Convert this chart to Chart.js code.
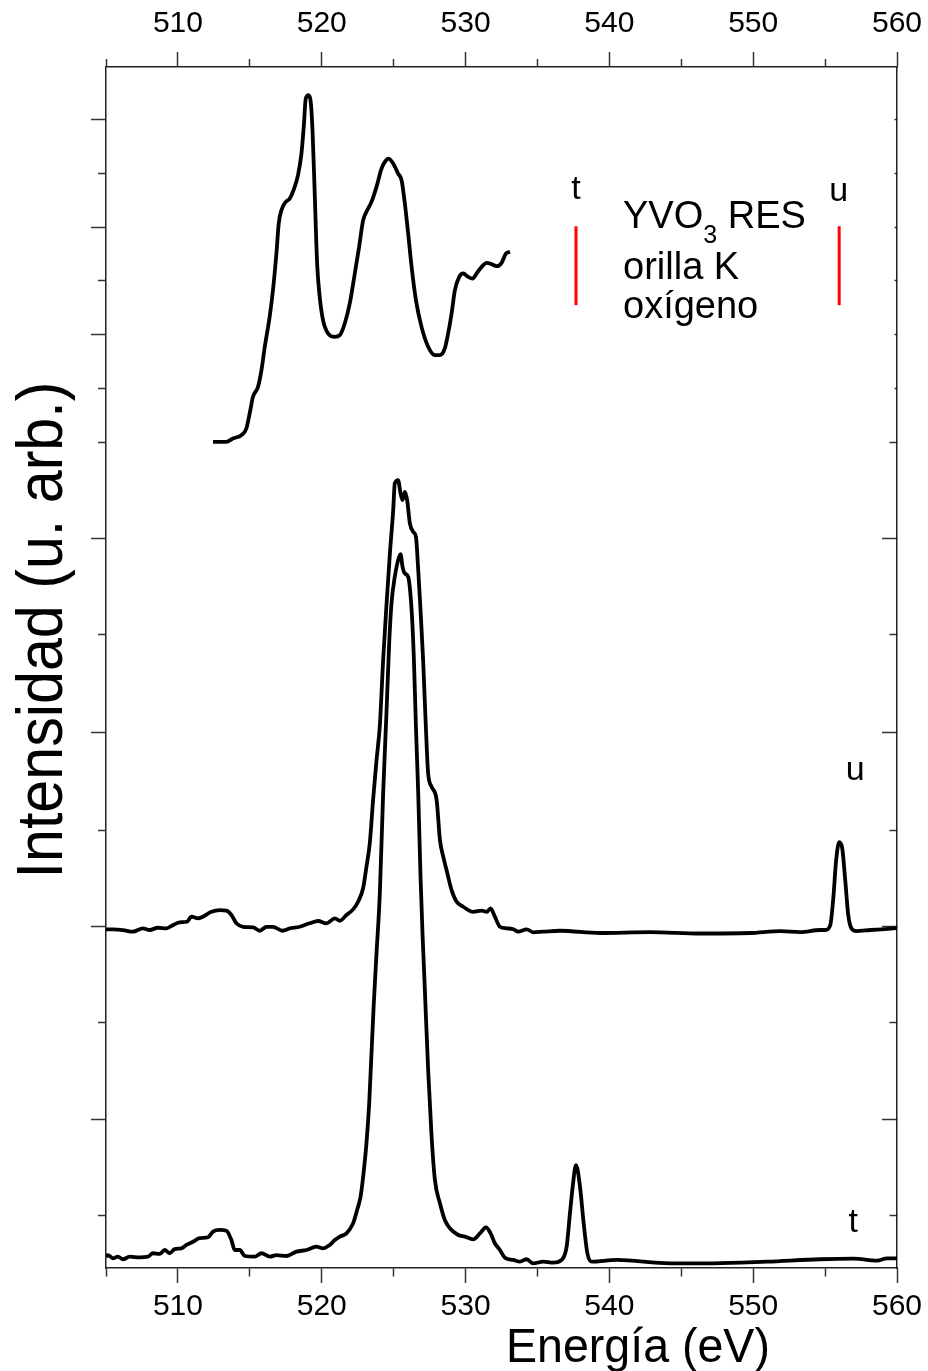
<!DOCTYPE html>
<html>
<head>
<meta charset="utf-8">
<title>YVO3 RES orilla K oxígeno</title>
<script src="https://cdn.jsdelivr.net/npm/chart.js@4.4.0/dist/chart.umd.min.js"></script>
<style>
html, body { margin: 0; padding: 0; background: #fff; }
</style>
</head>
<body>
<canvas id="chart" width="928" height="1371"></canvas>
<script>
// energy axis (eV)
const xTicks = [505, 510, 515, 520, 525, 530, 535, 540, 545, 550, 555, 560];
// intensity axis has no labels, only ticks (arb. units)
const yTicksMajor = [12.4, 28.5, 44.6, 60.8, 77.8, 86.7, 95.7];
const yTicksMinor = [4.4, 20.5, 36.5, 52.8, 68.8, 73.3, 82.3, 91.2];
const yRightLong = [12.4, 28.5, 44.6, 60.8];
const yRightMid = [4.4, 20.5, 36.5, 52.8, 68.8];
const yRightShort = [73.3, 77.8, 82.3, 86.7, 91.2, 95.7];

// absorption spectrum (top)
const xasEnergy = [512.44, 513.37, 513.83, 514.42, 514.76, 514.99, 515.22, 515.57, 515.81, 516.04,
  516.38, 516.61, 516.85, 517.01, 517.2, 517.5, 517.78, 518.12, 518.35, 518.59,
  518.75, 518.89, 519.08, 519.22, 519.36, 519.52, 519.68, 519.86, 520.09, 520.44,
  520.91, 521.26, 521.6, 521.95, 522.3, 522.6, 522.88, 523.11, 523.46, 523.81,
  524.16, 524.39, 524.64, 524.97, 525.31, 525.55, 525.78, 526.01, 526.25, 526.55,
  526.94, 527.4, 527.87, 528.21, 528.56, 528.79, 529.03, 529.26, 529.56, 529.84,
  530.18, 530.49, 530.77, 531.12, 531.47, 531.81, 532.16, 532.51, 532.81, 533.09];
const xasIntensity = [68.86, 68.86, 69.14, 69.42, 69.97, 71.22, 72.61, 73.44, 74.83, 76.78,
  79.28, 81.5, 84.56, 87.06, 88.17, 88.86, 89.14, 90.11, 91.08, 92.89,
  95.11, 97.47, 97.75, 97.33, 94.83, 89.28, 83.72, 80.94, 79, 77.89,
  77.61, 77.75, 78.72, 80.39, 82.89, 85.11, 87.33, 88.03, 88.86, 90.11,
  91.64, 92.19, 92.47, 92.06, 91.22, 90.67, 88.72, 86.22, 83.44, 80.67,
  78.44, 76.78, 76.08, 76.08, 76.64, 77.89, 79.56, 81.5, 82.61, 82.89,
  82.61, 82.47, 82.89, 83.44, 83.78, 83.67, 83.5, 83.78, 84.56, 84.69];

// RES spectrum excited at u
const uEnergy = [505, 505.48, 506.18, 506.87, 507.57, 508.03, 508.61, 509.2, 509.54, 510.12,
  510.63, 510.94, 511.4, 511.74, 512.33, 512.91, 513.37, 513.72, 514.07, 514.53,
  515.22, 515.69, 516.16, 516.61, 517.27, 517.78, 518.47, 519.17, 519.75, 520.33,
  520.91, 521.26, 521.72, 522.18, 522.53, 522.88, 523.11, 523.34, 523.57, 523.81,
  524.04, 524.27, 524.51, 524.74, 524.97, 525.08, 525.31, 525.48, 525.62, 525.78,
  525.94, 526.13, 526.36, 526.55, 526.71, 526.87, 527.05, 527.24, 527.4, 527.64,
  527.99, 528.22, 528.45, 528.68, 529.03, 529.38, 529.84, 530.53, 531.12, 531.47,
  531.74, 532.04, 532.39, 532.86, 533.32, 533.66, 534.25, 534.71, 535.4, 536.57,
  539.35, 542.83, 546.31, 549.79, 551.88, 553.27, 554.66, 555.01, 555.36, 555.56,
  555.77, 555.98, 556.19, 556.4, 556.61, 556.82, 557.16, 558.14, 559.18, 560];
const uIntensity = [28.23, 28.23, 28.17, 28.03, 28.31, 28.17, 28.36, 28.31, 28.5, 28.81,
  28.86, 29.28, 29.14, 29.28, 29.69, 29.83, 29.78, 29.42, 28.73, 28.44,
  28.39, 28.11, 28.44, 28.44, 28.11, 28.31, 28.44, 28.73, 28.92, 28.73,
  29.14, 28.94, 29.42, 29.89, 30.53, 31.67, 33.44, 35.39, 39, 42.33,
  45.2, 50.67, 55.39, 59.56, 63.17, 65.39, 65.67, 64.56, 64, 64.69,
  64, 62.06, 61.36, 60.94, 58.17, 54.83, 50.67, 45.11, 41.22, 40.11,
  39, 35.67, 34.28, 33.17, 31.5, 30.53, 30.11, 29.69, 29.78, 29.69,
  29.98, 29.28, 28.44, 28.31, 28.23, 28.03, 28.23, 27.98, 28.03, 28.11,
  27.92, 28, 27.88, 27.92, 28.08, 28, 28.17, 28.17, 28.58, 30.67,
  34, 35.5, 35, 32.33, 29.42, 28.33, 28.08, 28.17, 28.25, 28.33];

// RES spectrum excited at t
const tEnergy = [505, 505.13, 505.48, 505.83, 506.18, 506.64, 507.34, 507.92, 508.26, 508.73,
  509.08, 509.43, 509.77, 510.24, 510.59, 511.05, 511.51, 512.09, 512.44, 512.91,
  513.37, 513.72, 513.95, 514.3, 514.65, 515.34, 515.81, 516.39, 516.85, 517.55,
  518.24, 518.94, 519.63, 520.09, 520.56, 520.91, 521.26, 521.72, 522.18, 522.46,
  522.7, 522.88, 523.11, 523.3, 523.46, 523.62, 523.81, 524.04, 524.27, 524.51,
  524.69, 524.85, 525.08, 525.31, 525.48, 525.62, 525.78, 526.01, 526.25, 526.41,
  526.55, 526.71, 526.87, 527.01, 527.17, 527.4, 527.64, 527.87, 528.22, 528.56,
  528.91, 529.49, 529.96, 530.53, 531, 531.42, 531.74, 532.04, 532.39, 532.74,
  533.32, 533.78, 534.25, 534.71, 535.4, 536.1, 536.68, 537.03, 537.26, 537.45,
  537.68, 537.96, 538.19, 538.47, 538.77, 540.51, 544.22, 547.23, 550.95, 554.66,
  556.98, 558.61, 559.3, 560];
const tIntensity = [0.94, 1.08, 0.81, 0.94, 0.73, 0.94, 0.89, 0.94, 1.23, 1.17,
  1.5, 1.23, 1.58, 1.64, 1.92, 2.19, 2.48, 2.56, 3.03, 3.17,
  3.11, 2.33, 1.5, 1.5, 1, 0.94, 1.23, 0.94, 1.08, 1,
  1.36, 1.5, 1.78, 1.64, 1.92, 2.33, 2.61, 2.89, 3.72, 4.83,
  5.94, 7.61, 10.39, 13.72, 17.89, 22.06, 26.22, 31.22, 39.56, 46.5,
  52.06, 55.39, 57.61, 59, 59.5, 58.44, 57.89, 57.61, 54.83, 50.67,
  45.11, 39.56, 32.61, 27.8, 23.2, 16.5, 10.94, 7.33, 5.39, 4,
  3.31, 2.75, 2.61, 2.39, 2.89, 3.39, 2.89, 2.06, 1.5, 0.86,
  0.67, 0.53, 0.73, 0.39, 0.53, 0.44, 0.67, 1.78, 4.56, 6.78,
  8.58, 6.78, 4, 1.23, 0.53, 0.67, 0.39, 0.39, 0.53, 0.73,
  0.78, 0.61, 0.81, 0.81];

// excitation energies marked on the absorption spectrum
const markerEnergy = [537.68, 555.98];
const markerSpan = [80.25, 86.83];

// small letters and the note
const labelText = ['t', 'u', 'u', 't'];
const labelEnergy = [537.68, 555.95, 557.1, 556.96];
const labelIntensity = [89.1, 88.9, 40.7, 3.0];
const noteEnergy = 540.95;
const noteIntensity = [86.67, 82.42, 79.17];

const FONT = '"Liberation Sans", Arial, sans-serif';

function toPoints(xs, ys) {
    return xs.map((v, i) => ({ x: v, y: ys[i] }));
}

function curve(xs, ys) {
    return {
        data: toPoints(xs, ys),
        borderColor: '#000',
        borderWidth: 3.8,
        pointRadius: 0,
        cubicInterpolationMode: 'monotone',
        xAxisID: 'x',
        yAxisID: 'y'
    };
}

function marker(e) {
    return {
        data: [{ x: e, y: markerSpan[0] }, { x: e, y: markerSpan[1] }],
        borderColor: '#ff0000',
        borderWidth: 3,
        pointRadius: 0,
        tension: 0,
        xAxisID: 'x',
        yAxisID: 'y'
    };
}

const isMinorX = v => v % 10 !== 0;
const tickList = arr => () => arr.map(v => ({ value: v }));

// draws the texts that sit inside the frame plus the two axis titles
const annotate = {
    id: 'annotate',
    afterDraw(chart) {
        const { ctx, chartArea, scales } = chart;
        const x = scales.x, y = scales.y;
        ctx.save();
        ctx.fillStyle = '#000';

        ctx.font = '34px ' + FONT;
        ctx.textAlign = 'center';
        ctx.textBaseline = 'alphabetic';
        labelText.forEach((s, i) => {
            ctx.fillText(s, x.getPixelForValue(labelEnergy[i]), y.getPixelForValue(labelIntensity[i]));
        });

        // note: YVO3 RES / orilla K / oxígeno
        ctx.textAlign = 'left';
        const nx = x.getPixelForValue(noteEnergy);
        let by = y.getPixelForValue(noteIntensity[0]);
        ctx.font = '38px ' + FONT;
        ctx.fillText('YVO', nx, by);
        let w = ctx.measureText('YVO').width;
        ctx.font = '25px ' + FONT;
        ctx.fillText('3', nx + w, by + 15);
        w += ctx.measureText('3').width;
        ctx.font = '38px ' + FONT;
        ctx.fillText(' RES', nx + w, by);
        ctx.fillText('orilla K', nx, y.getPixelForValue(noteIntensity[1]));
        ctx.fillText('oxígeno', nx, y.getPixelForValue(noteIntensity[2]));

        // x title
        ctx.save();
        ctx.font = '49px ' + FONT;
        ctx.translate(chartArea.left + 400, chartArea.bottom + 94);
        ctx.scale(0.95, 1);
        ctx.fillText('Energía (eV)', 0, 0);
        ctx.restore();

        // y title
        ctx.save();
        ctx.font = '64px ' + FONT;
        ctx.textAlign = 'center';
        ctx.translate(chartArea.left - 44, 630);
        ctx.rotate(-Math.PI / 2);
        ctx.scale(0.925, 1);
        ctx.fillText('Intensidad (u. arb.)', 0, 0);
        ctx.restore();

        ctx.restore();
    }
};

const xAxisBase = {
    type: 'linear',
    display: true,
    min: 505,
    max: 560,
    afterBuildTicks: axis => { axis.ticks = tickList(xTicks)(); },
    ticks: {
        autoSkip: false,
        maxRotation: 0,
        color: '#000',
        font: { size: 30, family: FONT },
        callback: v => (isMinorX(v) ? '' : String(v))
    },
    border: { display: true, color: '#222', width: 1.5 }
};

new Chart(document.getElementById('chart'), {
    type: 'line',
    data: {
        datasets: [
            curve(xasEnergy, xasIntensity),
            curve(uEnergy, uIntensity),
            curve(tEnergy, tIntensity),
            marker(markerEnergy[0]),
            marker(markerEnergy[1])
        ]
    },
    options: {
        responsive: false,
        animation: false,
        layout: { padding: 0 },
        plugins: { legend: { display: false }, tooltip: { enabled: false } },
        scales: {
            x: Object.assign({}, xAxisBase, {
                position: 'bottom',
                ticks: Object.assign({}, xAxisBase.ticks, { padding: 6 }),
                grid: {
                    drawOnChartArea: false, tickLength: 15, tickColor: '#333', tickWidth: 1.5,
                    tickBorderDash: c => (c.tick && isMinorX(c.tick.value) ? [8, 100] : [])
                },
                afterFit: s => { s.height = 103; s.paddingLeft = 0; s.paddingRight = 0; }
            }),
            x2: Object.assign({}, xAxisBase, {
                position: 'top',
                ticks: Object.assign({}, xAxisBase.ticks, { padding: 10 }),
                grid: {
                    drawOnChartArea: false, tickLength: 15, tickColor: '#333', tickWidth: 1.5,
                    tickBorderDash: c => (c.tick && isMinorX(c.tick.value) ? [0, 7, 8, 100] : [])
                },
                afterFit: s => { s.height = 67; s.paddingLeft = 0; s.paddingRight = 0; }
            }),
            y: {
                type: 'linear',
                display: true,
                position: 'left',
                min: 0,
                max: 100.1,
                afterBuildTicks: axis => { axis.ticks = tickList(yTicksMajor.concat(yTicksMinor))(); },
                ticks: { display: false },
                grid: {
                    drawOnChartArea: false, tickLength: 15, tickColor: '#333', tickWidth: 1.5,
                    tickBorderDash: c => (c.tick && yTicksMinor.includes(c.tick.value) ? [0, 7, 8, 100] : [])
                },
                border: { display: true, color: '#222', width: 1.5 },
                afterFit: s => { s.width = 106; }
            },
            y2: {
                type: 'linear',
                display: true,
                position: 'right',
                min: 0,
                max: 100.1,
                afterBuildTicks: axis => { axis.ticks = tickList(yRightLong.concat(yRightMid, yRightShort))(); },
                ticks: { display: false },
                grid: {
                    drawOnChartArea: false, tickLength: -15, tickColor: '#333', tickWidth: 1.5,
                    tickBorderDash: c => {
                        if (!c.tick) return [];
                        if (yRightShort.includes(c.tick.value)) return [3, 100];
                        if (yRightMid.includes(c.tick.value)) return [8, 100];
                        return [];
                    }
                },
                border: { display: true, color: '#222', width: 1.5 },
                afterFit: s => { s.width = 31; }
            }
        }
    },
    plugins: [annotate]
});
</script>
</body>
</html>
